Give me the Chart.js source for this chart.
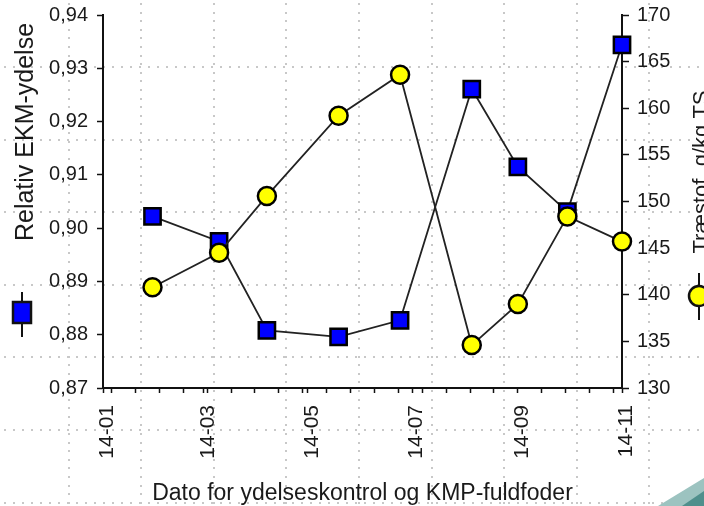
<!DOCTYPE html>
<html>
<head>
<meta charset="utf-8">
<script src="https://cdn.jsdelivr.net/npm/chart.js@4.4.1/dist/chart.umd.min.js"></script>
<style>
  html, body { margin: 0; padding: 0; background: #fff; }
  #wrap { width: 704px; height: 506px; position: relative; }
</style>
</head>
<body>
<div id="wrap"><canvas id="c"></canvas></div>
<script>
// sampling dates (ydelseskontrol / KMP-fuldfoder)
const sampleDates = ['2014-01-30', '2014-03-10', '2014-04-07', '2014-05-19', '2014-06-24',
                     '2014-08-05', '2014-09-01', '2014-09-30', '2014-11-01'];
const ekmYield = [0.9022, 0.8975, 0.8808, 0.8796, 0.8827, 0.9261, 0.9115, 0.9031, 0.9344];
const fibre = [140.8, 144.5, 150.6, 159.2, 163.6, 134.6, 139.0, 148.4, 145.7];

const monthDates = ['2014-01-01', '2014-03-01', '2014-05-01', '2014-07-01', '2014-09-01', '2014-11-01'];
const monthLabels = ['14-01', '14-03', '14-05', '14-07', '14-09', '14-11'];

const FONT = "'Liberation Sans', Arial, sans-serif";
const INK = '#1a1a1a';

const day0 = Date.parse('2014-01-01');
const dayNo = (s) => Math.round((Date.parse(s) - day0) / 86400000);

const majorDays = monthDates.map(dayNo);
const labelFor = {};
majorDays.forEach((d, i) => { labelFor[d] = monthLabels[i]; });
// small ticks every second Monday
const minorDays = [];
for (let d = dayNo('2014-01-06'); d < majorDays[majorDays.length - 1]; d += 14) {
  if (!majorDays.includes(d)) minorDays.push(d);
}
const xTicks = majorDays.concat(minorDays).sort((a, b) => a - b);

// slide background: dotted squares
const bgGrid = {
  id: 'bgGrid',
  beforeDraw(chart) {
    const { ctx, width, height } = chart;
    ctx.save();
    ctx.fillStyle = '#c8c8c8';
    for (let x = 68.5; x < width; x += 72.6) {
      for (let y = 3; y < height; y += 8.6) ctx.fillRect(Math.round(x) - 1, Math.round(y), 2, 2);
    }
    for (let y = 67; y < height; y += 72.6) {
      for (let x = 4; x < width; x += 9) ctx.fillRect(Math.round(x), Math.round(y) - 1, 2, 2);
    }
    // corner decoration
    ctx.fillStyle = '#9cc3c0';
    ctx.beginPath(); ctx.moveTo(658, 506); ctx.lineTo(704, 478); ctx.lineTo(704, 506); ctx.fill();
    ctx.fillStyle = '#4f8f8c';
    ctx.beginPath(); ctx.moveTo(682, 506); ctx.lineTo(704, 491); ctx.lineTo(704, 506); ctx.fill();
    ctx.restore();
  },
};

// vertical axis titles with their legend keys
const axisTitles = {
  id: 'axisTitles',
  afterDraw(chart) {
    const { ctx } = chart;
    ctx.save();
    ctx.fillStyle = INK;
    ctx.textAlign = 'center';
    ctx.textBaseline = 'alphabetic';
    ctx.font = '25px ' + FONT;
    ctx.translate(33, 132); ctx.rotate(-Math.PI / 2);
    ctx.fillText('Relativ EKM-ydelse', 0, 0);
    ctx.setTransform(1, 0, 0, 1, 0, 0);
    ctx.font = '22px ' + FONT;
    ctx.translate(708, 172); ctx.rotate(-Math.PI / 2);
    ctx.fillText('Træstof, g/kg TS', 0, 0);
    ctx.setTransform(1, 0, 0, 1, 0, 0);

    ctx.strokeStyle = '#111'; ctx.lineWidth = 2;
    ctx.beginPath(); ctx.moveTo(22, 292); ctx.lineTo(22, 337); ctx.stroke();
    ctx.fillStyle = '#0000ff'; ctx.lineWidth = 2.5;
    ctx.fillRect(13, 302, 18, 21); ctx.strokeRect(13, 302, 18, 21);

    ctx.lineWidth = 2;
    ctx.beginPath(); ctx.moveTo(699, 273); ctx.lineTo(699, 320); ctx.stroke();
    ctx.fillStyle = '#ffff00'; ctx.lineWidth = 2.5;
    ctx.beginPath(); ctx.arc(699, 296, 10, 0, Math.PI * 2); ctx.fill(); ctx.stroke();
    ctx.restore();
  },
};

const xs = sampleDates.map(dayNo);

new Chart(document.getElementById('c'), {
  type: 'line',
  data: {
    datasets: [
      {
        label: 'Træstof, g/kg TS',
        data: xs.map((x, i) => ({ x, y: fibre[i] })),
        yAxisID: 'y1',
        order: 0,
        borderColor: '#222',
        borderWidth: 1.8,
        pointStyle: 'circle',
        pointRadius: 9,
        pointBackgroundColor: '#ffff00',
        pointBorderColor: '#000',
        pointBorderWidth: 2.5,
        clip: false,
      },
      {
        label: 'Relativ EKM-ydelse',
        data: xs.map((x, i) => ({ x, y: ekmYield[i] })),
        yAxisID: 'y',
        order: 1,
        borderColor: '#222',
        borderWidth: 1.8,
        pointStyle: 'rect',
        pointRadius: 11.5,
        pointBackgroundColor: '#0000ff',
        pointBorderColor: '#000',
        pointBorderWidth: 2.5,
        clip: false,
      },
    ],
  },
  options: {
    responsive: true,
    maintainAspectRatio: false,
    animation: false,
    events: [],
    layout: { padding: { top: 15, left: 0, right: 0, bottom: 0 } },
    plugins: { legend: { display: false }, tooltip: { enabled: false } },
    scales: {
      x: {
        type: 'linear',
        min: majorDays[0],
        max: majorDays[majorDays.length - 1],
        z: 1,
        afterBuildTicks: (s) => { s.ticks = xTicks.map((v) => ({ value: v })); },
        afterFit: (s) => { s.height = 118; s.paddingLeft = 0; s.paddingRight = 0; },
        border: { display: true, color: '#111', width: 2 },
        grid: { drawOnChartArea: false, tickLength: 5, color: '#111', tickWidth: 1.5 },
        ticks: {
          autoSkip: false,
          minRotation: 90,
          maxRotation: 90,
          padding: 12,
          labelOffset: 4,
          color: INK,
          font: { family: FONT, size: 21 },
          callback: (v) => labelFor[v] || '',
        },
        title: {
          display: true,
          text: 'Dato for ydelseskontrol og KMP-fuldfoder',
          color: INK,
          font: { family: FONT, size: 23 },
          padding: { top: 0, bottom: -1 },
        },
      },
      y: {
        position: 'left',
        min: 0.87,
        max: 0.94,
        z: 1,
        afterFit: (s) => { s.width = 103; s.paddingTop = 0; s.paddingBottom = 0; },
        border: { display: true, color: '#111', width: 2 },
        grid: { drawOnChartArea: false, tickLength: 6, color: '#111', tickWidth: 1.5 },
        ticks: {
          stepSize: 0.01,
          padding: 9,
          color: INK,
          font: { family: FONT, size: 20 },
          callback: (v) => v.toFixed(2).replace('.', ','),
        },
      },
      y1: {
        position: 'right',
        min: 130,
        max: 170,
        z: 1,
        afterFit: (s) => { s.width = 82; s.paddingTop = 0; s.paddingBottom = 0; },
        border: { display: true, color: '#111', width: 2 },
        grid: { drawOnChartArea: false, tickLength: 7, color: '#111', tickWidth: 1.5 },
        ticks: {
          stepSize: 5,
          padding: 8,
          color: INK,
          font: { family: FONT, size: 20 },
        },
      },
    },
  },
  plugins: [bgGrid, axisTitles],
});
</script>
</body>
</html>
